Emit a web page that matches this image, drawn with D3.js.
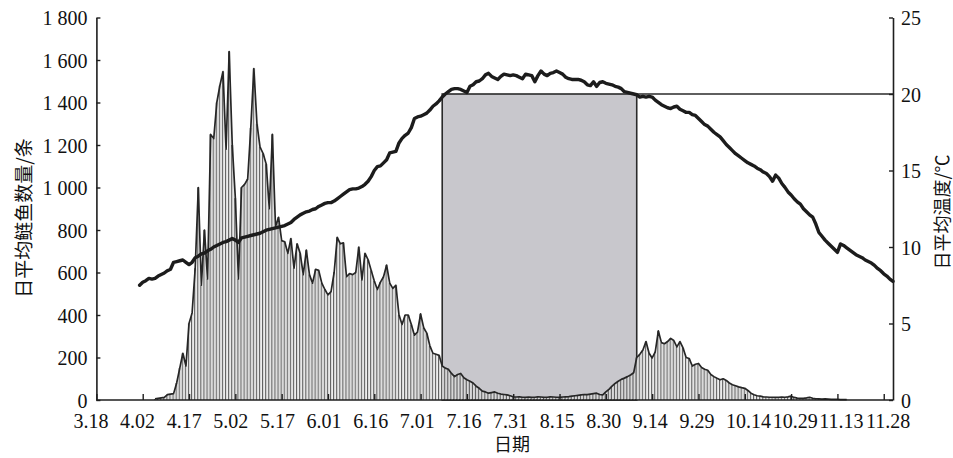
<!DOCTYPE html>
<html>
<head>
<meta charset="utf-8">
<script src="https://cdn.jsdelivr.net/npm/d3@7"></script>
<style>
  html, body { margin: 0; padding: 0; background: #fff; }
  svg { display: block; }
</style>
</head>
<body>
<svg id="chart" width="953" height="458"></svg>
<script>
// ---------------- DATA ----------------
const YEAR = "2019";
const xTickLabels = ["3.18","4.02","4.17","5.02","5.17","6.01","6.16","7.01","7.16","7.31",
                     "8.15","8.30","9.14","9.29","10.14","10.29","11.13","11.28"];
const xDomainLabels = ["3.18", "12.01"];
const leftTicks = [0, 200, 400, 600, 800, 1000, 1200, 1400, 1600, 1800];
const leftTickLabels = ["0","200","400","600","800","1 000","1 200","1 400","1 600","1 800"];
const rightTicks = [0, 5, 10, 15, 20, 25];

// daily mean silver carp count, one value per day starting 4.06
const fishStart = "4.06";
const fishCounts = [
  5,8,10,12,25,28,30,80,150,220,
  160,360,410,620,1000,540,800,570,1250,1230,
  1400,1480,1545,1180,1640,1200,950,570,1000,1015,
  1040,1280,1560,1300,1190,1160,1110,900,1250,815,
  860,750,745,690,760,620,735,690,590,705,
  590,550,615,610,550,520,495,510,600,765,
  735,740,580,595,590,600,720,565,690,660,
  610,560,520,555,580,635,550,525,540,400,
  355,400,400,355,305,320,405,340,315,255,
  220,215,210,160,150,145,125,110,120,125,
  105,95,88,80,65,55,42,38,32,35,
  38,32,28,26,24,20,15,14,15,13,
  12,14,12,13,15,14,12,13,15,14,
  13,12,14,15,16,18,20,22,24,26,
  25,28,30,32,26,24,38,50,65,78,
  88,97,103,110,118,128,200,215,235,275,
  220,198,227,325,270,265,275,290,280,250,
  275,245,200,195,160,168,172,153,145,140,
  120,110,102,95,100,92,80,72,67,62,
  58,55,45,32,25,20,18,15,14,13,
  13,12,13,14,13,15,18,12,9,8,
  8,10,13,8,6,5,4,5,4,3,
  3,3,2,2,2
];

// daily mean water temperature (°C), one value per day starting 4.01
const tempStart = "4.01";
const tempValues = [
  7.5,7.7,7.8,7.95,7.9,7.95,8.1,8.2,8.3,8.45,
  8.55,9.0,9.05,9.1,9.15,9.0,8.85,9.0,9.3,9.4,
  9.55,9.6,9.75,9.85,10.0,10.1,10.2,10.3,10.35,10.45,
  10.55,10.45,10.3,10.6,10.65,10.7,10.75,10.8,10.85,10.9,
  11.0,11.1,11.15,11.2,11.25,11.3,11.35,11.4,11.5,11.6,
  11.8,11.95,12.1,12.2,12.3,12.35,12.45,12.5,12.65,12.75,
  12.85,12.9,12.9,13.0,13.15,13.3,13.45,13.6,13.75,13.8,
  13.8,13.85,13.95,14.1,14.3,14.6,15.0,15.25,15.3,15.5,
  15.7,16.15,16.2,16.25,16.8,17.1,17.3,17.45,17.8,18.4,
  18.5,18.55,18.65,18.75,18.95,19.2,19.35,19.55,19.8,20.0,
  20.15,20.3,20.35,20.35,20.3,20.2,20.1,20.5,20.6,20.8,
  20.85,21.0,21.25,21.35,21.15,21.05,20.95,21.15,21.3,21.25,
  21.2,21.25,21.2,21.1,21.0,21.3,21.25,21.2,20.8,21.2,
  21.5,21.3,21.2,21.35,21.4,21.5,21.4,21.3,21.1,21.0,
  20.95,20.95,20.95,20.9,20.8,20.6,20.55,20.8,20.5,20.75,
  20.8,20.7,20.65,20.6,20.5,20.45,20.35,20.15,20.1,20.05,
  20.0,19.95,19.8,19.85,19.8,19.85,19.8,19.6,19.45,19.3,
  19.2,19.1,19.05,19.15,19.2,19.0,18.9,18.8,18.8,18.65,
  18.6,18.4,18.2,18.0,17.9,17.7,17.5,17.35,17.2,16.95,
  16.7,16.5,16.3,16.1,15.95,15.8,15.65,15.5,15.4,15.3,
  15.15,15.05,14.9,14.8,14.6,14.3,14.7,14.5,14.15,13.9,
  13.6,13.4,13.15,12.95,12.8,12.5,12.3,12.1,11.95,11.5,
  10.95,10.7,10.45,10.25,10.05,9.85,9.65,10.2,10.1,9.95,
  9.8,9.65,9.5,9.4,9.3,9.15,9.05,8.95,8.8,8.6,
  8.45,8.25,8.1,7.9,7.75
];

// shaded period (temperature ≥ 20 °C)
const shadeStart = "7.08";
const shadeEnd = "9.09";
const shadeTemp = 20;

const leftTitle = "日平均鲢鱼数量/条";
const rightTitle = "日平均温度/℃";
const xTitle = "日期";

// ---------------- CHART ----------------
const parse = s => d3.utcParse("%Y.%m.%d")(YEAR + "." + s);
const addDays = (d, n) => d3.utcDay.offset(d, n);

const M = { left: 96.4, right: 893, top: 17.5, bottom: 400 };
const svg = d3.select("#chart");

const x = d3.scaleUtc().domain(xDomainLabels.map(parse)).range([M.left, M.right]);
const yL = d3.scaleLinear().domain([0, 1800]).range([M.bottom, M.top]);
const yR = d3.scaleLinear().domain([0, 25]).range([M.bottom, M.top]);

const fish = fishCounts.map((v, i) => ({ date: addDays(parse(fishStart), i), v }));
const temp = tempValues.map((t, i) => ({ date: addDays(parse(tempStart), i), t }));

const serif = "'Liberation Serif','Times New Roman',serif";
const cjk = "'Noto Sans CJK SC','Noto Sans',sans-serif";

// shaded rectangle
const s0 = parse(shadeStart), s1 = parse(shadeEnd);
svg.append("rect")
  .attr("x", x(s0)).attr("y", yR(shadeTemp))
  .attr("width", x(s1) - x(s0)).attr("height", yR(0) - yR(shadeTemp))
  .attr("fill", "#c8c7cc").attr("stroke", "#2a2a2a").attr("stroke-width", 1.6);

// 20 °C reference line to the right axis
svg.append("line")
  .attr("x1", x(s1)).attr("x2", M.right)
  .attr("y1", yR(shadeTemp)).attr("y2", yR(shadeTemp))
  .attr("stroke", "#2a2a2a").attr("stroke-width", 1.6);

// daily bars
const bars = svg.append("g");
bars.selectAll("rect").data(fish).join("rect")
  .attr("x", d => x(d.date) - 0.6)
  .attr("y", d => yL(d.v))
  .attr("width", 2.0)
  .attr("height", d => yL(0) - yL(d.v))
  .attr("fill", "#d9d9d9");
bars.selectAll("line").data(fish).join("line")
  .attr("x1", d => x(d.date) - 0.6).attr("x2", d => x(d.date) - 0.6)
  .attr("y1", d => yL(d.v)).attr("y2", yL(0))
  .attr("stroke", "#505050").attr("stroke-width", 0.9);

// outline of counts
svg.append("path").datum(fish)
  .attr("d", d3.line().x(d => x(d.date)).y(d => yL(d.v)))
  .attr("fill", "none").attr("stroke", "#262626").attr("stroke-width", 1.7)
  .attr("stroke-linejoin", "round");

// temperature line
svg.append("path").datum(temp)
  .attr("d", d3.line().x(d => x(d.date)).y(d => yR(d.t)))
  .attr("fill", "none").attr("stroke", "#1c1c1c").attr("stroke-width", 3.4)
  .attr("stroke-linejoin", "round").attr("stroke-linecap", "round");

// axes
const axisColor = "#1e1e1e";
const xTickDates = xTickLabels.map(parse);
const gx = svg.append("g").attr("transform", `translate(0,${M.bottom})`)
  .call(d3.axisBottom(x).tickValues(xTickDates).tickSize(-6).tickSizeOuter(0).tickFormat(""));
gx.select(".domain").attr("d", `M${M.left},0H${M.right}`);
gx.selectAll(".tick").append("text")
  .attr("x", (d, i) => -23.4 + 0.3 * i)
  .attr("y", 28)
  .attr("text-anchor", "start")
  .attr("fill", "#111")
  .style("font-family", serif).style("font-size", "20px")
  .text((d, i) => xTickLabels[i]);

const gl = svg.append("g").attr("transform", `translate(${M.left},0)`)
  .call(d3.axisLeft(yL).tickValues(leftTicks).tickSize(-4).tickSizeOuter(0)
        .tickFormat((d, i) => leftTickLabels[i]));
gl.selectAll("text").attr("x", -9).attr("dy", "0.36em")
  .style("font-family", serif).style("font-size", "20px").attr("fill", "#111");

const gr = svg.append("g").attr("transform", `translate(${M.right},0)`)
  .call(d3.axisRight(yR).tickValues(rightTicks).tickSize(-4).tickSizeOuter(0));
gr.selectAll("text").attr("x", 8).attr("dy", "0.36em")
  .style("font-family", serif).style("font-size", "20px").attr("fill", "#111");

[gx, gl, gr].forEach(g => {
  g.select(".domain").attr("stroke", axisColor).attr("stroke-width", 1.6);
  g.selectAll(".tick line").attr("stroke", axisColor).attr("stroke-width", 1.4);
});

// titles
svg.append("text")
  .attr("transform", "translate(22,218) rotate(-90)")
  .attr("text-anchor", "middle").attr("dominant-baseline", "central")
  .style("font-family", cjk).style("font-size", "19px").attr("fill", "#111")
  .text(leftTitle);
svg.append("text")
  .attr("transform", "translate(941,212) rotate(-90)")
  .attr("text-anchor", "middle").attr("dominant-baseline", "central")
  .style("font-family", cjk).style("font-size", "18px").attr("fill", "#111")
  .text(rightTitle);
svg.append("text")
  .attr("x", 512).attr("y", 451)
  .attr("text-anchor", "middle")
  .style("font-family", cjk).style("font-size", "18px").attr("fill", "#111")
  .text(xTitle);
</script>
</body>
</html>
